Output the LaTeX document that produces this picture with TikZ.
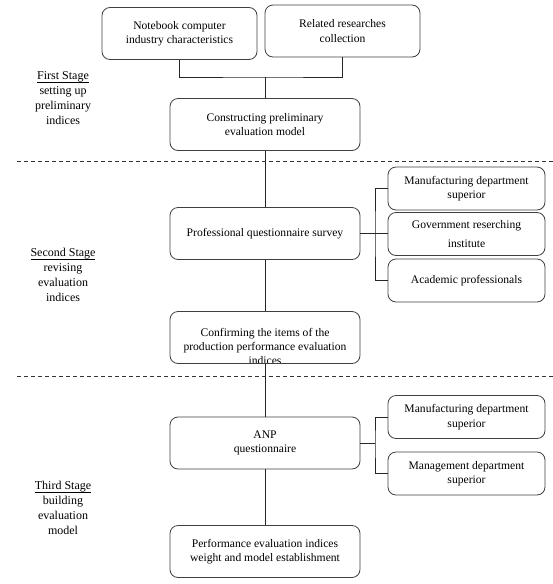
\documentclass[tikz,border=0pt]{standalone}
\usepackage{fontspec}
\setmainfont{Liberation Serif}
\newcommand\stageul[1]{\underline{\smash{#1}\rule[-1.8pt]{0pt}{0pt}}\rule{0pt}{8.5pt}}
\begin{document}
\begin{tikzpicture}[x=1pt,y=-1pt,
  box/.style={draw=black!75,line width=0.8pt,rounded corners=8pt,align=center,inner sep=0pt,
    font=\fontsize{11.6}{14.5}\selectfont},
  mainbox/.style={box,minimum width=190pt,minimum height=52pt},
  sidebox/.style={box,minimum width=157pt,minimum height=43pt},
  topbox/.style={box,minimum width=155pt,minimum height=52pt},
  link/.style={draw=black!85,line width=0.8pt},
  sep/.style={draw=black!80,line width=0.7pt,dash pattern=on 4pt off 3pt},
  stage/.style={align=center,font=\fontsize{12}{15}\selectfont}]
\useasboundingbox (0,0) rectangle (553,584);

% top boxes
\node[topbox] (nb) at (179.5,33.5) {Notebook computer\\industry characteristics};
\node[topbox] (rr) at (342.5,31) {Related researches\\collection};

% main column
\node[mainbox] (cp) at (265,124.5) {Constructing preliminary\\evaluation model};
\node[mainbox] (pq) at (265,233.5) {Professional questionnaire survey};
\node[mainbox,path picture={\node[align=center,font=\fontsize{11.6}{14}\selectfont]
   at ([yshift=-9pt]path picture bounding box.center)
   {Confirming the items of the\\production performance evaluation\\indices};}] (cf) at (265,337.5) {};
\node[mainbox] (anp) at (265,443) {ANP\\questionnaire};
\node[mainbox] (pe) at (265,551.5) {Performance evaluation indices\\weight and model establishment};

% side boxes
\node[sidebox] (md1) at (466.5,188.5) {Manufacturing department\\superior};
\node[sidebox] (gr) at (466.5,234) {Government reserching\\[4pt]institute};
\node[sidebox] (ac) at (466.5,280.5) {Academic professionals};
\node[sidebox] (md2) at (466.5,417) {Manufacturing department\\superior};
\node[sidebox] (mg) at (466.5,473.5) {Management department\\superior};

% connectors
\coordinate (j1) at (265,77);
\draw[link] (nb.south) |- (j1) -| (rr.south);
\draw[link] (j1) -- (cp.north);
\draw[link] (cp.south) -- (pq.north);
\draw[link] (pq.south) -- (cf.north);
\draw[link] (cf.south) -- (anp.north);
\draw[link] (anp.south) -- (pe.north);

\coordinate (b1) at (375,233.5);
\draw[link] (pq.east) -- (b1);
\draw[link] (md1.west) -| (b1) |- (ac.west);
\draw[link] (b1) -- (gr.west |- b1);

\coordinate (b2) at (375,443);
\draw[link] (anp.east) -- (b2);
\draw[link] (md2.west) -| (b2) |- (mg.west);

% stage separators
\coordinate (s1a) at (17,161); \coordinate (s1b) at (553,161);
\coordinate (s2a) at (17,376); \coordinate (s2b) at (553,376);
\draw[sep] (s1a) -- (s1b);
\draw[sep] (s2a) -- (s2b);

% stage labels
\node[stage] (st1) at (63,97.5) {\stageul{First Stage}\\setting up\\preliminary\\indices};
\node[stage] (st2) at (63,274.5) {\stageul{Second Stage}\\revising\\evaluation\\indices};
\node[stage] (st3) at (63,507.5) {\stageul{Third Stage}\\building\\evaluation\\model};
\end{tikzpicture}
\end{document}
